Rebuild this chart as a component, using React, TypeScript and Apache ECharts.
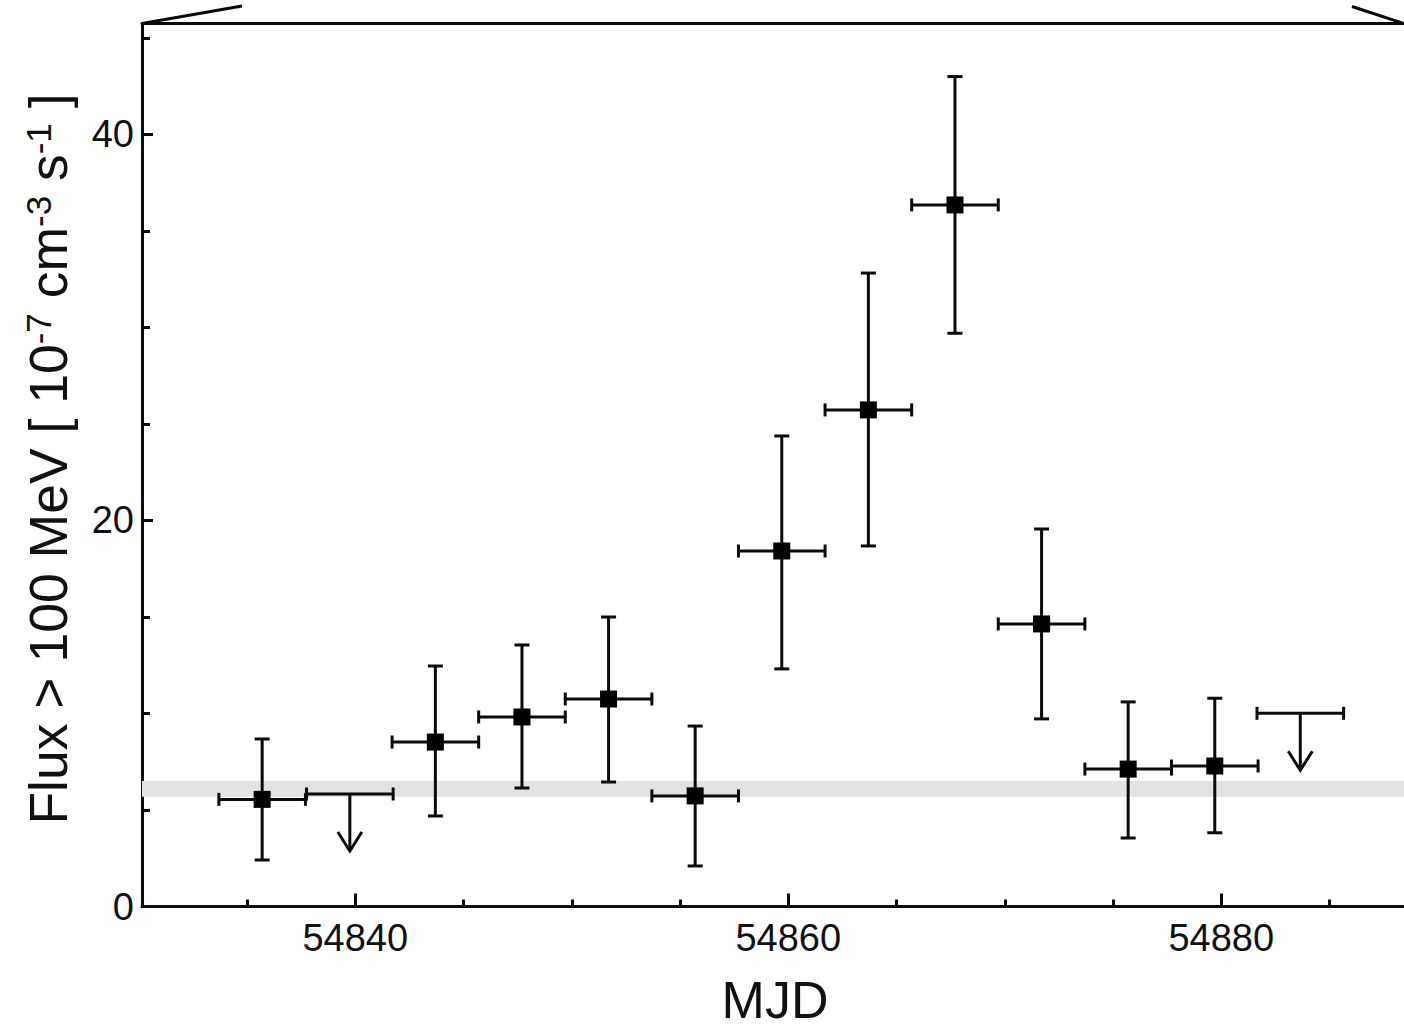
import React, { useEffect, useRef } from "react";
import * as echarts from "echarts";

// Detections (MJD bin centre, flux, error-bar low, error-bar high), in 1e-7 cm^-2 s^-1
const detMjd = [54835.7, 54843.7, 54847.7, 54851.7, 54855.7, 54859.7, 54863.7, 54867.7, 54871.7, 54875.7, 54879.7];
const detFlux = [5.55, 8.52, 9.82, 10.75, 5.73, 18.42, 25.73, 36.35, 14.64, 7.12, 7.28];
const detLow = [2.41, 4.69, 6.14, 6.45, 2.1, 12.31, 18.68, 29.7, 9.72, 3.55, 3.82];
const detHigh = [8.68, 12.46, 13.55, 15.0, 9.35, 24.38, 32.82, 43.0, 19.56, 10.6, 10.79];
const binHalfWidth = 2;

// Upper limits
const ulMjd = [54839.75, 54883.65];
const ulFlux = [5.83, 10.01];

// Average-flux band
const bandLow = 5.69;
const bandHigh = 6.5;

// Axes
const xMin = 54830.15;
const xMax = 54888.44;
const xMajorTicks = [54840, 54860, 54880];
const xMinorTicks = [54835, 54845, 54850, 54855, 54865, 54870, 54875, 54885];
const yMin = 0;
const yMax = 45.75;
const yMajorTicks = [0, 20, 40];
const yMinorTicks = [5, 10, 15, 25, 30, 35, 45];

const FONT = '"Liberation Sans", Arial, Helvetica, sans-serif';
const INK = "#0a0a0a";
const LW = 3;

export default function App() {
  const ref = useRef<HTMLDivElement>(null);

  useEffect(() => {
    if (!ref.current) return;
    const chart = echarts.init(ref.current, undefined, { renderer: "svg" });
    const lineStyle = { stroke: INK, lineWidth: LW };

    const detData = detMjd.map((x, i) => [x, detFlux[i], detLow[i], detHigh[i]]);
    const ulData = ulMjd.map((x, i) => [x, ulFlux[i]]);

    const option: any = {
      animation: false,
      backgroundColor: "#fff",
      grid: { left: 142, right: 0, top: 23.5, bottom: 121.5, containLabel: false },
      xAxis: [
        {
          type: "value",
          min: xMin,
          max: xMax,
          position: "bottom",
          axisLine: { show: true, onZero: false, lineStyle: { color: INK, width: LW } },
          axisTick: { show: true, inside: true, length: 7, customValues: xMinorTicks, lineStyle: { color: INK, width: LW } },
          axisLabel: {
            show: true,
            customValues: xMajorTicks,
            formatter: (v: number) => String(Math.round(v)),
            fontSize: 38,
            fontFamily: FONT,
            color: "#111",
            margin: 12,
          },
          splitLine: { show: false },
        },
        {
          type: "value",
          min: xMin,
          max: xMax,
          position: "bottom",
          axisLine: { show: false },
          axisTick: { show: true, inside: true, length: 13, customValues: xMajorTicks, lineStyle: { color: INK, width: LW } },
          axisLabel: { show: false },
          splitLine: { show: false },
        },
        {
          type: "value",
          min: xMin,
          max: xMax,
          position: "top",
          axisLine: { show: true, onZero: false, lineStyle: { color: INK, width: LW } },
          axisTick: { show: false },
          axisLabel: { show: false },
          splitLine: { show: false },
        },
      ],
      yAxis: [
        {
          type: "value",
          min: yMin,
          max: yMax,
          position: "left",
          axisLine: { show: true, onZero: false, lineStyle: { color: INK, width: LW } },
          axisTick: { show: true, inside: true, length: 8, customValues: yMinorTicks, lineStyle: { color: INK, width: LW } },
          axisLabel: {
            show: true,
            customValues: yMajorTicks,
            formatter: (v: number) => String(Math.round(v)),
            fontSize: 38,
            fontFamily: FONT,
            color: "#111",
            margin: 8,
          },
          splitLine: { show: false },
        },
        {
          type: "value",
          min: yMin,
          max: yMax,
          position: "left",
          axisLine: { show: false },
          axisTick: { show: true, inside: true, length: 11, customValues: yMajorTicks, lineStyle: { color: INK, width: LW } },
          axisLabel: { show: false },
          splitLine: { show: false },
        },
      ],
      series: [
        {
          type: "line",
          data: [],
          z: 1,
          silent: true,
          markArea: {
            silent: true,
            itemStyle: { color: "#e2e2e2", opacity: 1 },
            data: [[{ yAxis: bandLow }, { yAxis: bandHigh }]],
          },
        },
        {
          type: "custom",
          z: 3,
          data: detData,
          encode: { x: 0, y: 1 },
          renderItem: (params: any, api: any) => {
            const x = api.value(0);
            const y = api.value(1);
            const lo = api.value(2);
            const hi = api.value(3);
            const pl = api.coord([x - binHalfWidth, y]);
            const pr = api.coord([x + binHalfWidth, y]);
            const pt = api.coord([x, hi]);
            const pb = api.coord([x, lo]);
            const cv = 7.5;
            const ch = 6.5;
            return {
              type: "group",
              children: [
                { type: "line", shape: { x1: pl[0], y1: pl[1], x2: pr[0], y2: pr[1] }, style: lineStyle },
                { type: "line", shape: { x1: pt[0], y1: pt[1], x2: pb[0], y2: pb[1] }, style: lineStyle },
                { type: "line", shape: { x1: pt[0] - cv, y1: pt[1], x2: pt[0] + cv, y2: pt[1] }, style: lineStyle },
                { type: "line", shape: { x1: pb[0] - cv, y1: pb[1], x2: pb[0] + cv, y2: pb[1] }, style: lineStyle },
                { type: "line", shape: { x1: pl[0], y1: pl[1] - ch, x2: pl[0], y2: pl[1] + ch }, style: lineStyle },
                { type: "line", shape: { x1: pr[0], y1: pr[1] - ch, x2: pr[0], y2: pr[1] + ch }, style: lineStyle },
              ],
            };
          },
        },
        {
          type: "custom",
          z: 3,
          data: ulData,
          encode: { x: 0, y: 1 },
          renderItem: (params: any, api: any) => {
            const x = api.value(0);
            const y = api.value(1);
            const pc = api.coord([x, y]);
            const pl = api.coord([x - binHalfWidth, y]);
            const pr = api.coord([x + binHalfWidth, y]);
            const len = 57;
            const ch = 6.5;
            const tipY = pc[1] + len;
            return {
              type: "group",
              children: [
                { type: "line", shape: { x1: pl[0], y1: pl[1], x2: pr[0], y2: pr[1] }, style: lineStyle },
                { type: "line", shape: { x1: pl[0], y1: pl[1] - ch, x2: pl[0], y2: pl[1] + ch }, style: lineStyle },
                { type: "line", shape: { x1: pr[0], y1: pr[1] - ch, x2: pr[0], y2: pr[1] + ch }, style: lineStyle },
                { type: "line", shape: { x1: pc[0], y1: pc[1], x2: pc[0], y2: tipY }, style: lineStyle },
                {
                  type: "polyline",
                  shape: { points: [[pc[0] - 12, tipY - 19], [pc[0], tipY], [pc[0] + 12, tipY - 19]] },
                  style: { stroke: INK, lineWidth: LW, fill: "none" },
                },
              ],
            };
          },
        },
        {
          type: "scatter",
          z: 4,
          data: detMjd.map((x, i) => [x, detFlux[i]]),
          symbol: "rect",
          symbolSize: 17,
          itemStyle: { color: "#000", opacity: 1 },
          silent: true,
        },
      ],
      graphic: [
        {
          type: "line",
          shape: { x1: 142, y1: 23.5, x2: 242, y2: 6 },
          style: { stroke: INK, lineWidth: LW },
        },
        {
          type: "line",
          shape: { x1: 1352, y1: 6.5, x2: 1404, y2: 23.5 },
          style: { stroke: INK, lineWidth: LW },
        },
        {
          type: "text",
          x: 775,
          y: 1000,
          style: {
            text: "MJD",
            font: `52px ${FONT}`,
            fill: "#111",
            align: "center",
            verticalAlign: "middle",
          },
        },
        {
          type: "text",
          x: 48,
          y: 459,
          rotation: Math.PI / 2,
          style: {
            text: "{a|Flux > 100 MeV [ 10}{s|-7}{a| cm}{s|-3}{a| s}{s|-1}{a| ]}",
            align: "center",
            verticalAlign: "middle",
            fill: "#111",
            rich: {
              a: { fontSize: 53.5, fontFamily: FONT, fill: "#111", color: "#111" },
              s: { fontSize: 35, fontFamily: FONT, fill: "#111", color: "#111", verticalAlign: "top", padding: [0, 0, 6, 0] },
            },
          },
        },
      ],
    };

    chart.setOption(option);
    return () => chart.dispose();
  }, []);

  return (
    <div
      ref={ref}
      style={{ position: "absolute", left: 0, top: 0, width: 1404, height: 1028, background: "#fff" }}
    />
  );
}
